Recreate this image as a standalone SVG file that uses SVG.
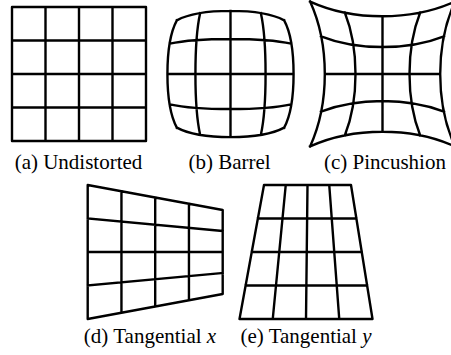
<svg xmlns="http://www.w3.org/2000/svg" width="451" height="355" viewBox="0 0 451 355">
<style>
.g{fill:none;stroke:#000;stroke-width:2.4;stroke-linejoin:round;stroke-linecap:square}
.lbl{font-family:"Liberation Serif","Times New Roman",serif;font-size:21px;fill:#000;text-anchor:middle}
.m{font-style:italic}
</style>
<rect width="451" height="355" fill="#fff"/>
<g id="undistorted">
<path class="g" d="M12 7H146V141H12Z M45.5 7V141 M79 7V141 M112.5 7V141 M12 40.5H146 M12 74H146 M12 107.5H146"/>
<text class="lbl" x="78.5" y="169">(a) Undistorted</text>
</g>
<g id="barrel">
<path class="g" d="M176.85 20.35C164.28 43.55 164.28 104.45 176.85 127.65
M200.14 13.28C193.86 41.19 193.86 106.81 200.14 134.72
M230.5 10.93L230.5 137.08
M260.86 13.28C267.14 41.19 267.14 106.81 260.86 134.72
M284.15 20.35C296.72 43.55 296.72 104.45 284.15 127.65
M176.85 20.35C200.05 7.78 260.95 7.78 284.15 20.35
M169.78 43.64C197.69 37.36 263.31 37.36 291.22 43.64
M167.43 74L293.58 74
M169.78 104.36C197.69 110.64 263.31 110.64 291.22 104.36
M176.85 127.65C200.05 140.22 260.95 140.22 284.15 127.65"/>
<text class="lbl" x="229.5" y="169">(b) Barrel</text>
</g>
<g id="pincushion">
<path class="g" d="M310.1 1.6C329.7 44.53 329.7 103.47 310.1 146.4
M344.8 12.5C359.07 48.5 359.07 99.5 344.8 135.5
M382.5 16.3L382.5 131.7
M420.2 12.5C405.93 48.5 405.93 99.5 420.2 135.5
M454.9 1.6C435.3 44.53 435.3 103.47 454.9 146.4
M310.1 1.6C353.03 21.2 411.97 21.2 454.9 1.6
M321 36.3C357 50.57 408 50.57 444 36.3
M324.8 74L440.2 74
M321 111.7C357 97.43 408 97.43 444 111.7
M310.1 146.4C353.03 126.8 411.97 126.8 454.9 146.4"/>
<text class="lbl" x="385" y="169">(c) Pincushion</text>
</g>
<g id="tangential-x">
<path class="g" d="M87.7 185L222.7 210L222.7 294L87.7 319Z
M121.45 191.25V312.75 M155.2 197.5V306.5 M188.95 203.75V300.25
M87.7 218.5L222.7 231 M87.7 252L222.7 252 M87.7 285.5L222.7 273"/>
<text class="lbl" x="150" y="343">(d) Tangential <tspan class="m">x</tspan></text>
</g>
<g id="tangential-y">
<path class="g" d="M264 185L351 185L372.5 319L239.5 319Z
M285.75 185L272.75 319 M307.5 185L306 319 M329.25 185L339.25 319
M257.875 218.5H356.375 M251.75 252H361.75 M245.625 285.5H367.125"/>
<text class="lbl" x="306" y="343">(e) Tangential <tspan class="m">y</tspan></text>
</g>
</svg>
